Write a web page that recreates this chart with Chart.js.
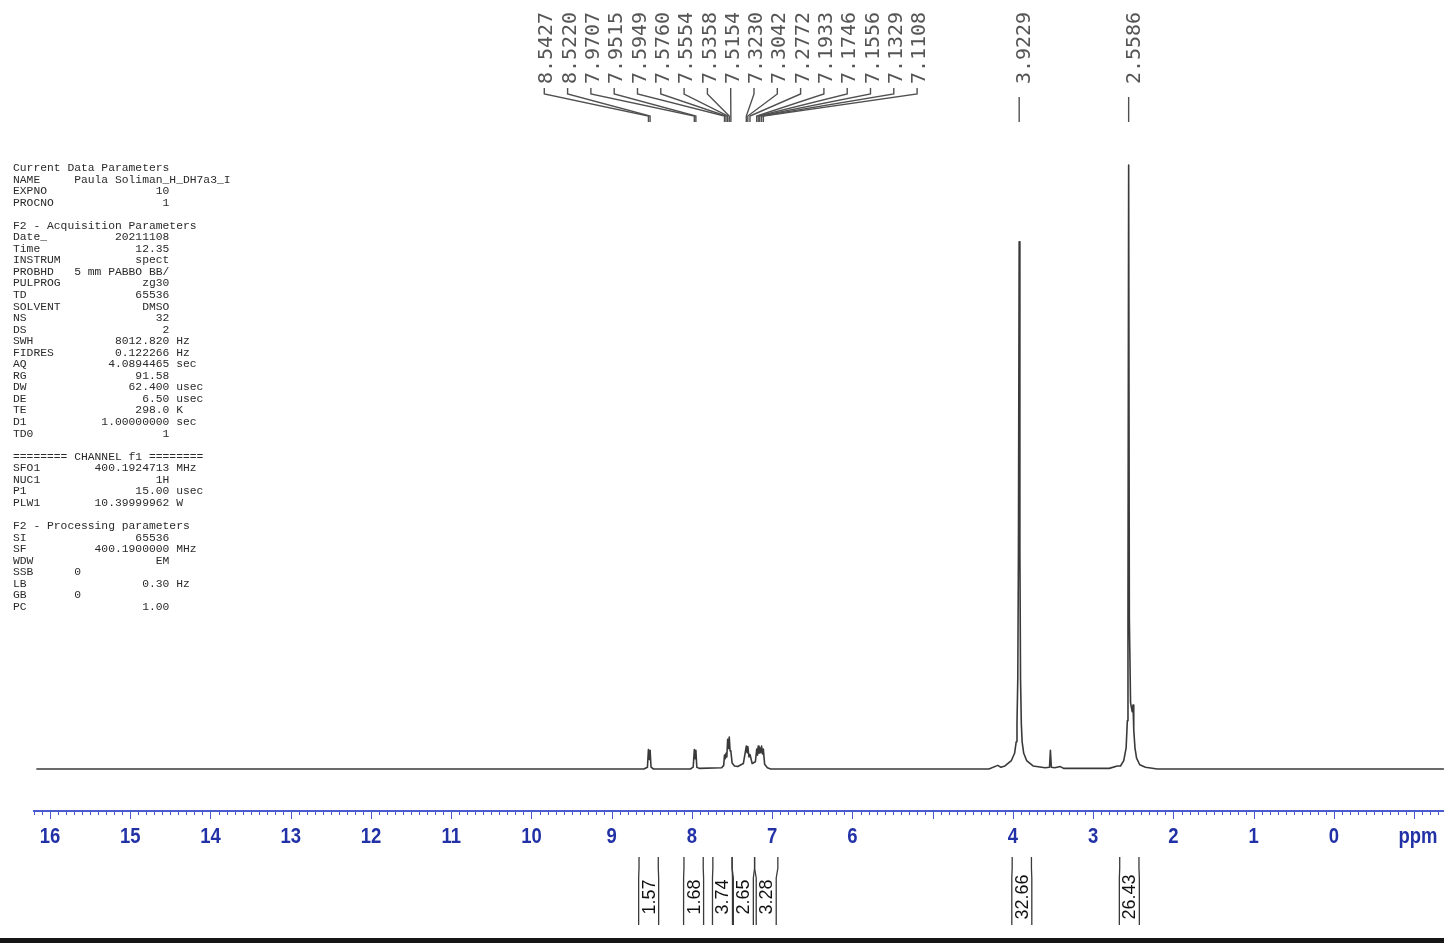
<!DOCTYPE html>
<html>
<head>
<meta charset="utf-8">
<script src="https://cdn.jsdelivr.net/npm/chart.js@4"></script>
<style>
  html, body { margin: 0; padding: 0; background: #fff; overflow: hidden; }
  #wrap { position: relative; width: 1444px; height: 943px; }
  #spectrum { position: absolute; left: 0; top: 0; }
  #params {
    position: absolute; left: 13px; top: 163px; margin: 0;
    font-family: "Liberation Mono", monospace; font-size: 11.33px; line-height: 11.55px;
    color: #2a2a2a; white-space: pre;
  }
  #footer { position: absolute; left: 0; bottom: 0; width: 1444px; height: 5px; background: #161616; }
</style>
</head>
<body>
<div id="wrap">
  <canvas id="spectrum" width="1444" height="943"></canvas>
  <pre id="params"></pre>
  <div id="footer"></div>
</div>
<script>
// spectrum trace (ppm, intensity with tallest peak = 100)
const specPpm = [
  16.17, 8.60,
  8.555, 8.5427, 8.532, 8.5220, 8.51, 8.48,
  8.02, 7.985, 7.9707, 7.961, 7.9515, 7.94, 7.91,
  7.63, 7.605, 7.5949, 7.585, 7.5760, 7.566, 7.5554, 7.545, 7.5358, 7.525, 7.5154, 7.50, 7.47,
  7.43, 7.36, 7.3230, 7.313, 7.3042, 7.29, 7.2772, 7.25,
  7.21, 7.1933, 7.184, 7.1746, 7.165, 7.1556, 7.145, 7.1329, 7.122, 7.1108, 7.095, 7.06, 7.02,
  4.30, 4.19, 4.15, 4.10, 4.02, 3.98, 3.96, 3.95, 3.94, 3.932, 3.9229, 3.914, 3.906, 3.896, 3.886, 3.866, 3.83, 3.75, 3.60,
  3.545, 3.5335, 3.522, 3.48, 3.41, 3.37, 2.80,
  2.70, 2.66, 2.62, 2.59, 2.575, 2.567, 2.5586, 2.55, 2.535, 2.515, 2.504, 2.495, 2.48, 2.46, 2.42, 2.35, 2.20, -1.37
];
const specInt = [
  0, 0,
  0.3, 3.2, 1.6, 3.1, 0.3, 0,
  0, 0.3, 3.2, 1.7, 3.1, 0.3, 0.1,
  0.2, 0.6, 2.3, 1.7, 2.6, 2.0, 4.9, 3.4, 5.3, 3.0, 2.9, 1.0, 0.5,
  0.4, 0.9, 3.8, 2.7, 3.7, 2.0, 2.4, 0.9,
  1.2, 3.3, 2.3, 3.8, 2.6, 3.5, 2.7, 3.8, 2.5, 3.3, 0.8, 0.2, 0,
  0, 0.6, 0.3, 0.5, 1.4, 2.6, 4.5, 7.5, 15, 36, 87.3, 36, 15, 7.5, 4.5, 2.6, 1.4, 0.5, 0.2,
  0.3, 3.1, 0.3, 0.2, 0.4, 0.1, 0.1,
  0.5, 0.5, 1.4, 3.5, 8, 25, 100, 25, 11, 9.5, 10.6, 6.5, 3.5, 1.8, 0.7, 0.3, 0, 0
];

// peak picking labels (ppm)
const peakLabels = [8.5427, 8.5220, 7.9707, 7.9515, 7.5949, 7.5760, 7.5554, 7.5358, 7.5154,
  7.3230, 7.3042, 7.2772, 7.1933, 7.1746, 7.1556, 7.1329, 7.1108, 3.9229, 2.5586];

// integrals
const integralFrom = [8.66, 8.10, 7.74, 7.50, 7.22, 4.01, 2.67];
const integralTo = [8.42, 7.86, 7.50, 7.22, 6.93, 3.77, 2.43];
const integralValues = ['1.57', '1.68', '3.74', '2.65', '3.28', '32.66', '26.43'];

// axis ticks
const axisLabels = [16, 15, 14, 13, 12, 11, 10, 9, 8, 7, 6, 4, 3, 2, 1, 0];
const majorTicks = [16, 15, 14, 13, 12, 11, 10, 9, 8, 7, 6, 5, 4, 3, 2, 1, 0, -1];

const paramLines = [
  ['Current Data Parameters'],
  ['NAME', 'Paula Soliman_H_DH7a3_I', '', 9],
  ['EXPNO', '10'],
  ['PROCNO', '1'],
  [''],
  ['F2 - Acquisition Parameters'],
  ['Date_', '20211108'],
  ['Time', '12.35'],
  ['INSTRUM', 'spect'],
  ['PROBHD', '5 mm PABBO BB/'],
  ['PULPROG', 'zg30'],
  ['TD', '65536'],
  ['SOLVENT', 'DMSO'],
  ['NS', '32'],
  ['DS', '2'],
  ['SWH', '8012.820', 'Hz'],
  ['FIDRES', '0.122266', 'Hz'],
  ['AQ', '4.0894465', 'sec'],
  ['RG', '91.58'],
  ['DW', '62.400', 'usec'],
  ['DE', '6.50', 'usec'],
  ['TE', '298.0', 'K'],
  ['D1', '1.00000000', 'sec'],
  ['TD0', '1'],
  [''],
  ['======== CHANNEL f1 ========'],
  ['SFO1', '400.1924713', 'MHz'],
  ['NUC1', '1H'],
  ['P1', '15.00', 'usec'],
  ['PLW1', '10.39999962', 'W'],
  [''],
  ['F2 - Processing parameters'],
  ['SI', '65536'],
  ['SF', '400.1900000', 'MHz'],
  ['WDW', 'EM'],
  ['SSB', '0', '', 9],
  ['LB', '0.30', 'Hz'],
  ['GB', '0', '', 9],
  ['PC', '1.00']
];

document.getElementById('params').textContent = paramLines.map(([label, value, unit, col]) => {
  if (value === undefined) return label;
  let s = col ? label.padEnd(col) + value : label + value.padStart(23 - label.length);
  if (unit) s += ' ' + unit;
  return s;
}).join('\n');

// spread crowded labels: merge neighbouring groups until none overlap
function spreadLabels(natural, step) {
  let groups = natural.map((v, i) => ({ start: i, n: 1, center: v }));
  let merged = true;
  while (merged) {
    merged = false;
    for (let g = 0; g < groups.length - 1; g++) {
      const a = groups[g], b = groups[g + 1];
      const aRight = a.center + (a.n - 1) / 2 * step;
      const bLeft = b.center - (b.n - 1) / 2 * step;
      if (bLeft - aRight < step) {
        const n = a.n + b.n;
        const members = natural.slice(a.start, a.start + n);
        groups.splice(g, 2, { start: a.start, n, center: members.reduce((s, v) => s + v, 0) / n });
        merged = true;
        break;
      }
    }
  }
  const out = natural.slice();
  groups.forEach(gr => {
    if (gr.n > 1) {
      for (let k = 0; k < gr.n; k++) out[gr.start + k] = gr.center + 3 + (k - (gr.n - 1) / 2) * step;
    }
  });
  return out;
}

const nmrDecor = {
  id: 'nmrDecor',
  afterDraw(chart) {
    const { ctx } = chart;
    const x = chart.scales.x;
    ctx.save();

    // ppm axis
    const axisY = 811;
    ctx.strokeStyle = '#4a5bd0';
    ctx.lineWidth = 2;
    ctx.beginPath();
    ctx.moveTo(33, axisY);
    ctx.lineTo(1444, axisY);
    ctx.stroke();
    ctx.lineWidth = 1;
    ctx.beginPath();
    for (let i = 162; i >= -13; i--) {
      const px = Math.round(x.getPixelForValue(i / 10)) + 0.5;
      ctx.moveTo(px, axisY);
      ctx.lineTo(px, axisY + 4);
    }
    majorTicks.forEach(v => {
      const px = Math.round(x.getPixelForValue(v)) + 0.5;
      ctx.moveTo(px, axisY);
      ctx.lineTo(px, axisY + 8);
    });
    ctx.stroke();

    ctx.fillStyle = '#2232a6';
    ctx.font = 'bold 22px "Liberation Sans", Arial, sans-serif';
    ctx.textAlign = 'center';
    ctx.textBaseline = 'middle';
    const drawAxisText = (txt, px) => {
      ctx.save();
      ctx.translate(px, 837);
      ctx.scale(0.84, 1);
      ctx.fillText(txt, 0, 0);
      ctx.restore();
    };
    axisLabels.forEach(v => drawAxisText(String(v), x.getPixelForValue(v)));
    drawAxisText('ppm', 1418);

    // peak labels
    const natural = peakLabels.map(p => x.getPixelForValue(p));
    const labelX = spreadLabels(natural, 23.3);
    ctx.strokeStyle = '#505050';
    ctx.lineWidth = 1.4;
    ctx.fillStyle = '#555';
    ctx.font = '20px "DejaVu Sans Mono", monospace';
    peakLabels.forEach((p, i) => {
      const lx = labelX[i], px = natural[i];
      ctx.beginPath();
      if (lx === px) {
        ctx.moveTo(px, 97);
        ctx.lineTo(px, 122);
      } else {
        ctx.moveTo(lx, 88);
        ctx.lineTo(lx, 94);
        ctx.lineTo(px, 116);
        ctx.lineTo(px, 122);
      }
      ctx.stroke();
      ctx.save();
      ctx.translate((lx === px ? px + 6 : lx + 3), 48);
      ctx.rotate(-Math.PI / 2);
      ctx.textAlign = 'center';
      ctx.textBaseline = 'middle';
      ctx.fillText(p.toFixed(4), 0, 0);
      ctx.restore();
    });

    // integrals
    ctx.strokeStyle = '#3a3a3a';
    ctx.lineWidth = 1.3;
    ctx.fillStyle = '#111';
    ctx.font = '18px "Liberation Sans", Arial, sans-serif';
    integralValues.forEach((val, i) => {
      const x1 = x.getPixelForValue(integralFrom[i]);
      const x2 = x.getPixelForValue(integralTo[i]);
      const mid = (x1 + x2) / 2;
      ctx.beginPath();
      ctx.moveTo(x1, 857); ctx.lineTo(x1, 868); ctx.lineTo(mid - 10, 878); ctx.lineTo(mid - 10, 925);
      ctx.moveTo(x2, 857); ctx.lineTo(x2, 868); ctx.lineTo(mid + 10, 878); ctx.lineTo(mid + 10, 925);
      ctx.stroke();
      ctx.save();
      ctx.translate(mid + 1, 897);
      ctx.rotate(-Math.PI / 2);
      ctx.textAlign = 'center';
      ctx.textBaseline = 'middle';
      ctx.fillText(val, 0, 0);
      ctx.restore();
    });
    ctx.restore();
  }
};

new Chart(document.getElementById('spectrum'), {
  type: 'scatter',
  data: {
    datasets: [{
      data: specPpm.map((p, i) => ({ x: p, y: specInt[i] })),
      showLine: true,
      borderColor: '#3a3a3a',
      borderWidth: 1.6,
      borderJoinStyle: 'round',
      pointRadius: 0,
      tension: 0
    }]
  },
  options: {
    responsive: false,
    animation: false,
    layout: { padding: 0 },
    plugins: { legend: { display: false }, tooltip: { enabled: false } },
    scales: {
      x: { type: 'linear', reverse: true, min: -1.371, max: 16.623, display: false },
      y: { min: -28.81, max: 127.32, display: false }
    }
  },
  plugins: [nmrDecor]
});
</script>
</body>
</html>
